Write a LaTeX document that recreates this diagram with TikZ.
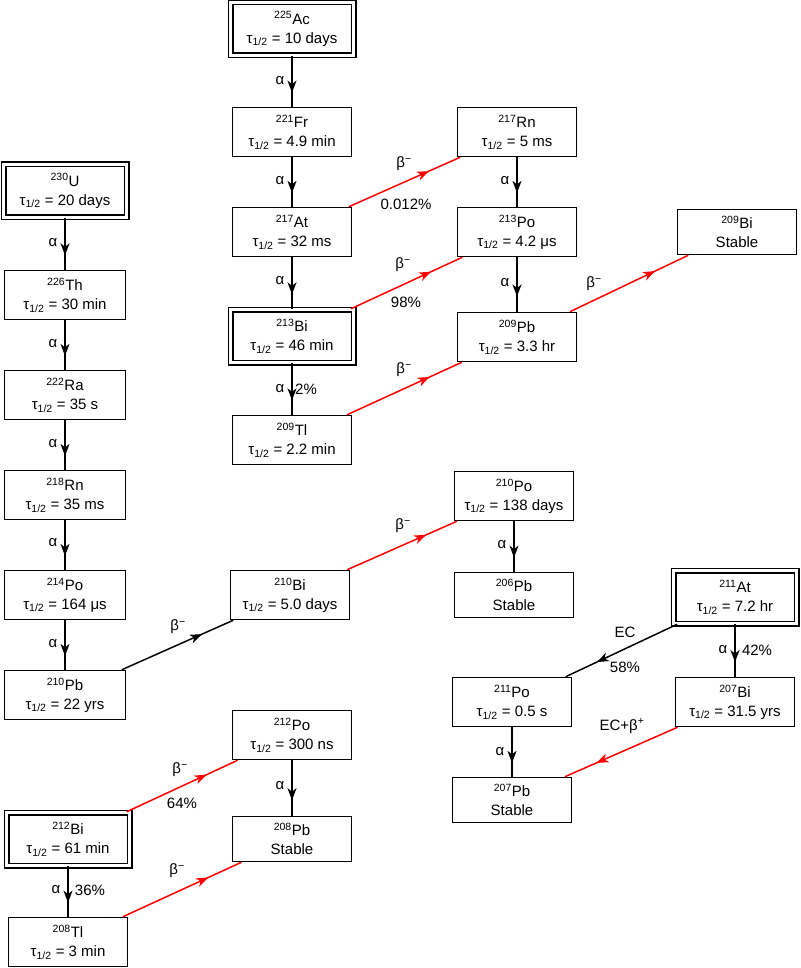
\documentclass[tikz,border=0pt]{standalone}
\usepackage{fontspec}
\setmainfont{Liberation Sans}
\usetikzlibrary{arrows.meta,decorations.markings}
\newcommand\mainf{\fontsize{15}{19}\selectfont}
\newcommand\hl[1]{τ\textsubscript{1/2} = #1}
\newcommand\iso[2]{\textsuperscript{#1}#2}
\newcommand\bm{β\textsuperscript{−}}
\tikzset{
 box/.style={draw, line width=1.5pt, minimum width=119pt, minimum height=49pt, inner sep=0pt, align=center, font=\mainf},
 stablebox/.style={box, minimum height=45pt},
 dbox/.style={box, double, double distance=3pt, line width=1.5pt, minimum width=123pt, minimum height=53pt},
 conn/.style={line width=1.5pt, postaction={decorate}, decoration={markings, mark=at position 0.72 with {\arrow{Stealth[length=12pt,width=9pt,inset=3.5pt]}}}},
 blk/.style={conn, draw=black},
 rd/.style={conn, draw=red, color=red},
 lbl/.style={inner sep=0pt, font=\mainf, text=black}
}
\begin{document}
\begin{tikzpicture}[x=1pt,y=-1pt]
\useasboundingbox[fill=white] (0,0) rectangle (800,968);
% column B
\node[dbox] (Ac) at (292,29) {\iso{225}{Ac}\\\hl{10 days}};
\node[box] (Fr) at (292,132) {\iso{221}{Fr}\\\hl{4.9 min}};
\node[box] (At217) at (292,232) {\iso{217}{At}\\\hl{32 ms}};
\node[dbox] (Bi213) at (292,336) {\iso{213}{Bi}\\\hl{46 min}};
\node[box] (Tl209) at (292,440) {\iso{209}{Tl}\\\hl{2.2 min}};
% column C
\node[box] (Rn217) at (517,132) {\iso{217}{Rn}\\\hl{5 ms}};
\node[box] (Po213) at (517,232) {\iso{213}{Po}\\\hl{4.2 μs}};
\node[box] (Pb209) at (517,337) {\iso{209}{Pb}\\\hl{3.3 hr}};
\node[stablebox] (Bi209) at (737,232) {\iso{209}{Bi}\\Stable};
% column A
\node[dbox] (U) at (65,191) {\iso{230}{U}\\\hl{20 days}};
\node[box, minimum width=121pt] (Th) at (65,295) {\iso{226}{Th}\\\hl{30 min}};
\node[box, minimum width=121pt] (Ra) at (65,395) {\iso{222}{Ra}\\\hl{35 s}};
\node[box, minimum width=121pt] (Rn218) at (65,495) {\iso{218}{Rn}\\\hl{35 ms}};
\node[box, minimum width=121pt] (Po214) at (65,595) {\iso{214}{Po}\\\hl{164 μs}};
\node[box, minimum width=121pt] (Pb210) at (65,695) {\iso{210}{Pb}\\\hl{22 yrs}};
% middle
\node[box] (Bi210) at (290,595) {\iso{210}{Bi}\\\hl{5.0 days}};
\node[box] (Po210) at (514,496) {\iso{210}{Po}\\\hl{138 days}};
\node[stablebox] (Pb206) at (514,595) {\iso{206}{Pb}\\Stable};
% At-211 group
\node[dbox] (At211) at (735,597) {\iso{211}{At}\\\hl{7.2 hr}};
\node[box] (Po211) at (512,702) {\iso{211}{Po}\\\hl{0.5 s}};
\node[box] (Bi207) at (735,702) {\iso{207}{Bi}\\\hl{31.5 yrs}};
\node[stablebox] (Pb207) at (512,800) {\iso{207}{Pb}\\Stable};
% Bi-212 group
\node[box] (Po212) at (292,735) {\iso{212}{Po}\\\hl{300 ns}};
\node[stablebox] (Pb208) at (292,839) {\iso{208}{Pb}\\Stable};
\node[dbox] (Bi212) at (68,839) {\iso{212}{Bi}\\\hl{61 min}};
\node[box] (Tl208) at (68,942) {\iso{208}{Tl}\\\hl{3 min}};

% connectors column B
\draw[blk] (Ac) -- (Fr) node[lbl] (l1) at (280,81) {α};
\draw[blk] (Fr) -- (At217) node[lbl] (l2) at (280,181) {α};
\draw[blk] (At217) -- (Bi213) node[lbl] (l3) at (280,281) {α};
\draw[blk] (Bi213) -- (Tl209) node[lbl] (l4) at (280,389) {α} node[lbl] (l4b) at (306,389) {2\%};
\draw[rd] (At217) -- (Rn217) node[lbl] (l5) at (404,164) {\bm} node[lbl] (l5b) at (406,204) {0.012\%};
\draw[rd] (Bi213) -- (Po213) node[lbl] (l6) at (403,265) {\bm} node[lbl] (l6b) at (406,302) {98\%};
\draw[rd] (Tl209) -- (Pb209) node[lbl] (l7) at (404,370) {\bm};
\draw[blk] (Rn217) -- (Po213) node[lbl] (l8) at (505,181) {α};
\draw[blk] (Po213) -- (Pb209) node[lbl] (l9) at (505,283) {α};
\draw[rd] (Pb209) -- (Bi209) node[lbl] (l10) at (594,284) {\bm};
% column A
\draw[blk] (U) -- (Th) node[lbl] (a1) at (53,243) {α};
\draw[blk] (Th) -- (Ra) node[lbl] (a2) at (53,344) {α};
\draw[blk] (Ra) -- (Rn218) node[lbl] (a3) at (53,444) {α};
\draw[blk] (Rn218) -- (Po214) node[lbl] (a4) at (53,543) {α};
\draw[blk] (Po214) -- (Pb210) node[lbl] (a5) at (53,644) {α};
\draw[blk] (Pb210) -- (Bi210) node[lbl] (a6) at (178,627) {\bm};
\draw[rd] (Bi210) -- (Po210) node[lbl] (a7) at (403,526) {\bm};
\draw[blk] (Po210) -- (Pb206) node[lbl] (a8) at (502,545) {α};
% At-211
\draw[blk] (At211) -- (Po211) node[lbl] (e1) at (625,632) {EC} node[lbl] (e1b) at (625,667) {58\%};
\draw[blk] (At211) -- (Bi207) node[lbl] (e2) at (723,650) {α} node[lbl] (e2b) at (757,650) {42\%};
\draw[blk] (Po211) -- (Pb207) node[lbl] (e3) at (500,752) {α};
\draw[rd] (Bi207) -- (Pb207) node[lbl] (e4) at (622,726) {EC+β\textsuperscript{+}};
% Bi-212
\draw[rd] (Bi212) -- (Po212) node[lbl] (b1) at (180,770) {\bm} node[lbl] (b1b) at (182,803) {64\%};
\draw[blk] (Po212) -- (Pb208) node[lbl] (b2) at (280,786) {α};
\draw[blk] (Bi212) -- (Tl208) node[lbl] (b3) at (56,890) {α} node[lbl] (b3b) at (90,890) {36\%};
\draw[rd] (Tl208) -- (Pb208) node[lbl] (b4) at (177,871) {\bm};
\end{tikzpicture}
\end{document}
